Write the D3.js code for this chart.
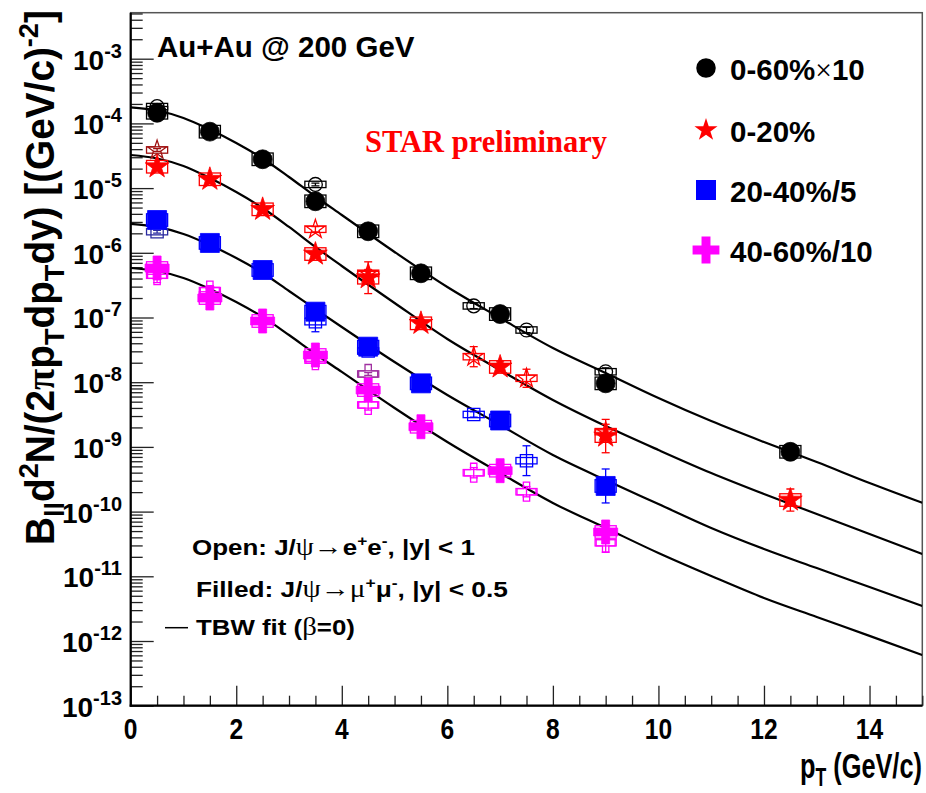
<!DOCTYPE html>
<html>
<head>
<meta charset="utf-8">
<script src="https://cdn.jsdelivr.net/npm/d3@7"></script>
<style>
  body { margin: 0; background: #fff; }
  svg { display: block; }
</style>
</head>
<body>
<svg id="chart" width="926" height="793"></svg>
<script>
// ---- data ----
var labels = ["0-60%\u00d710", "0-20%", "20-40%/5", "40-60%/10"];

// TBW fit curves, sampled at fitPt
var fitPt = [0, 0.5, 1, 1.5, 2, 2.5, 3, 3.5, 4, 5, 6, 7, 8, 9, 10, 11, 12, 13, 14, 15];
var fit0_60 = [1.77e-4, 1.58e-4, 1.21e-4, 8.04e-5, 4.98e-5, 2.87e-5, 1.485e-5, 7.42e-6, 3.84e-6, 1.03e-6,
               2.96e-7, 9.82e-8, 3.38e-8, 1.39e-8, 5.70e-9, 2.51e-9, 1.19e-9, 5.84e-10, 2.77e-10, 1.37e-10];
var fit0_20 = [3.25e-5, 2.87e-5, 2.20e-5, 1.43e-5, 8.70e-6, 4.93e-6, 2.51e-6, 1.23e-6, 6.25e-7, 1.675e-7,
               4.65e-8, 1.54e-8, 5.31e-9, 2.10e-9, 8.96e-10, 3.95e-10, 1.87e-10, 9.18e-11, 4.51e-11, 2.21e-11];
var fit20_40 = [2.79e-6, 2.51e-6, 1.95e-6, 1.32e-6, 8.31e-7, 4.87e-7, 2.57e-7, 1.35e-7, 7.13e-8, 2.05e-8,
                6.34e-9, 2.18e-9, 7.50e-10, 3.08e-10, 1.31e-10, 5.58e-11, 2.64e-11, 1.34e-11, 6.83e-12, 3.48e-12];
var fit40_60 = [5.82e-7, 5.23e-7, 4.08e-7, 2.76e-7, 1.74e-7, 1.02e-7, 5.36e-8, 2.73e-8, 1.44e-8, 3.99e-9,
                1.19e-9, 3.95e-10, 1.36e-10, 5.58e-11, 2.29e-11, 1.01e-11, 4.62e-12, 2.35e-12, 1.20e-12, 6.08e-13];

// filled: J/psi -> mu+ mu-, |y| < 0.5
var mmPt = [0.5, 1.5, 2.5, 3.5, 4.5, 5.5, 7.0, 9.0, 12.5];
var mm0_60 = [1.46e-4, 7.45e-5, 2.79e-5, 6.25e-6, 2.15e-6, 4.82e-7, 1.13e-7, 9.6e-9, 8.4e-10];
var mm0_20 = [2.14e-5, 1.37e-5, 4.70e-6, 9.57e-7, 4.12e-7, 8.13e-8, 1.72e-8, 1.47e-9, 1.51e-10];
var mm20_40 = [3.21e-6, 1.42e-6, 5.42e-7, 1.23e-7, 3.54e-8, 9.6e-9, 2.56e-9, 2.49e-10];
var mm40_60 = [5.82e-7, 2.0e-7, 8.83e-8, 2.63e-8, 7.56e-9, 2.05e-9, 4.29e-10, 4.84e-11];
// relative stat. errors
var mmStat0_60 = [0.03, 0.03, 0.04, 0.05, 0.06, 0.08, 0.1, 0.15, 0.3];
var mmStat0_20 = [0.05, 0.05, 0.08, 0.1, 0.76, 0.15, 0.2, 0.81, 0.48];
var mmStat20_40 = [0.05, 0.05, 0.08, 0.1, 0.15, 0.2, 0.25, 0.83];
var mmStat40_60 = [0.1, 0.15, 0.15, 0.2, 0.25, 0.3, 0.3, 0.3];

// open: J/psi -> e+ e-, |y| < 1
var eePt0_60 = [3.5, 6.5, 7.5, 9.0];
var ee0_60 = [1.14e-5, 1.51e-7, 6.41e-8, 1.45e-8];
var eeStat0_60 = [0.05, 0.1, 0.1, 0.15];
var eePt0_20 = [3.5, 4.5, 6.5, 7.5, 9.0];
var ee0_20 = [2.31e-6, 4.8e-7, 2.48e-8, 1.15e-8, 1.72e-9];
var eeStat0_20 = [0.1, 0.15, 0.43, 0.38, 0.3];
var eePt20_40 = [3.5, 4.5, 6.5, 7.5];
var ee20_40 = [8.61e-8, 3.03e-8, 3.17e-9, 6.12e-10];
var eeStat20_40 = [0.43, 0.15, 0.1, 0.7];
var eePt40_60 = [0.5, 1.5, 3.5, 4.5, 6.5, 7.5, 9.0];
var ee40_60 = [4.5e-7, 2.6e-7, 2.2e-8, 4.45e-9, 3.99e-10, 2.03e-10, 3.3e-11];
var eeStat40_60 = [0.3, 0.2, 0.15, 0.2, 0.2, 0.2, 0.4];

// open, second e+e- sample (darker colour)
var ee2Pt0_60 = [0.5];
var ee2_0_60 = [1.82e-4];
var ee2Pt0_20 = [0.5];
var ee2_0_20 = [3.88e-5];
var ee2Pt20_40 = [0.5];
var ee2_20_40 = [2.12e-6];
var ee2Pt40_60 = [4.5];
var ee2_40_60 = [1.34e-8];

var yMajorExp = [-13, -12, -11, -10, -9, -8, -7, -6, -5, -4, -3];
var xMajor = [0, 2, 4, 6, 8, 10, 12, 14];

// ---- layout ----
var x0 = 130.7, x1 = 922.3, yB = 705.7, yT = 12.7;
var helv = "'Liberation Sans', Arial, Helvetica, sans-serif";
var times = "'Liberation Serif', 'Times New Roman', serif";

var svg = d3.select("#chart");
var x = d3.scaleLinear().domain([0, 15]).range([x0, x1]);
var y = d3.scaleLog().domain([1e-13, 5.14e-3]).range([yB, yT]);

var colors = ["#000000", "#ff0000", "#0000ff", "#ff00ff"];
var darkColors = ["#000000", "#a01010", "#2a2aa0", "#a030a0"];
var shapes = [d3.symbolCircle, d3.symbolStar, d3.symbolSquare, d3.symbolCross];
var fullSize = [280, 175, 361, 320];
var openSize = [150, 110, 150, 200];

var series = [
  {fit: fit0_60, mm: mm0_60, mmStat: mmStat0_60, eePt: eePt0_60, ee: ee0_60, eeStat: eeStat0_60, ee2Pt: ee2Pt0_60, ee2: ee2_0_60},
  {fit: fit0_20, mm: mm0_20, mmStat: mmStat0_20, eePt: eePt0_20, ee: ee0_20, eeStat: eeStat0_20, ee2Pt: ee2Pt0_20, ee2: ee2_0_20},
  {fit: fit20_40, mm: mm20_40, mmStat: mmStat20_40, eePt: eePt20_40, ee: ee20_40, eeStat: eeStat20_40, ee2Pt: ee2Pt20_40, ee2: ee2_20_40},
  {fit: fit40_60, mm: mm40_60, mmStat: mmStat40_60, eePt: eePt40_60, ee: ee40_60, eeStat: eeStat40_60, ee2Pt: ee2Pt40_60, ee2: ee2_40_60}
];

svg.append("defs").append("clipPath").attr("id", "plotclip")
   .append("rect").attr("x", x0).attr("y", yT).attr("width", x1 - x0).attr("height", yB - yT);

// frame
svg.append("rect").attr("x", x0).attr("y", yT).attr("width", x1 - x0).attr("height", yB - yT)
   .attr("fill", "none").attr("stroke", "#555").attr("stroke-width", 1.5);

// ---- axes ----
var yMinor = [];
yMajorExp.forEach(function(e) {
  for (var k = 2; k <= 9; k++) {
    var v = k * Math.pow(10, e);
    if (v <= 5.14e-3) yMinor.push(v);
  }
});
var yMajor = yMajorExp.map(function(e) { return Math.pow(10, e); });

function styleAxis(g) {
  g.select(".domain").remove();
  g.selectAll("line").attr("stroke", "#222").attr("stroke-width", 1.3);
}
svg.append("g").attr("transform", "translate(" + x0 + ",0)")
   .call(d3.axisLeft(y).tickValues(yMinor).tickSize(-12).tickFormat(""))
   .call(styleAxis);
svg.append("g").attr("transform", "translate(" + x0 + ",0)")
   .call(d3.axisLeft(y).tickValues(yMajor).tickSize(-23).tickFormat(""))
   .call(styleAxis);

var xMinor = d3.range(0, 15.01, 0.5).filter(function(v) { return xMajor.indexOf(v) < 0; });
svg.append("g").attr("transform", "translate(0," + yB + ")")
   .call(d3.axisBottom(x).tickValues(xMinor).tickSize(-10).tickFormat(""))
   .call(styleAxis);
svg.append("g").attr("transform", "translate(0," + yB + ")")
   .call(d3.axisBottom(x).tickValues(xMajor).tickSize(-20).tickFormat(""))
   .call(styleAxis);

// axis lines
svg.append("line").attr("x1", x0).attr("x2", x0).attr("y1", yT).attr("y2", yB + 1)
   .attr("stroke", "#000").attr("stroke-width", 2.2);
svg.append("line").attr("x1", x0 - 1).attr("x2", x1).attr("y1", yB).attr("y2", yB)
   .attr("stroke", "#000").attr("stroke-width", 2.2);

// y tick labels 10^n
yMajorExp.forEach(function(e) {
  var t = svg.append("text").attr("x", 122).attr("y", y(Math.pow(10, e)) + 11)
             .attr("text-anchor", "end").attr("font-family", helv).attr("font-weight", "bold")
             .attr("font-size", 28);
  t.append("tspan").text("10");
  t.append("tspan").attr("dy", -12).attr("font-size", 20).text(String(e));
});

// x tick labels (narrow font)
xMajor.forEach(function(v) {
  svg.append("text")
     .attr("transform", "translate(" + x(v) + "," + (yB + 33) + ") scale(0.82,1)")
     .attr("text-anchor", "middle").attr("font-family", helv).attr("font-weight", "bold")
     .attr("font-size", 30).text(v);
});

// squeeze a text to a given width, anchored at its left end
function fitWidth(t, xp, yp, width, extra) {
  var w = t.node().getComputedTextLength();
  t.attr("transform", "translate(" + xp + "," + yp + ")" + (extra || "") + " scale(" + (width / w) + ",1)");
}

// x title
var xt = svg.append("text").attr("font-family", helv).attr("font-weight", "bold").attr("font-size", 36);
xt.append("tspan").text("p");
xt.append("tspan").attr("dy", 8).attr("font-size", 25).text("T");
xt.append("tspan").attr("dy", -8).text(" (GeV/c)");
fitWidth(xt, 800, 778, 122);

// y title
var ytl = svg.append("text").attr("font-family", helv).attr("font-weight", "bold").attr("font-size", 40);
ytl.append("tspan").text("B");
ytl.append("tspan").attr("dy", 10).attr("font-size", 28).text("ll");
ytl.append("tspan").attr("dy", -10).text("d");
ytl.append("tspan").attr("dy", -16).attr("font-size", 28).text("2");
ytl.append("tspan").attr("dy", 16).text("N/(2");
ytl.append("tspan").attr("font-family", times).text("\u03c0");
ytl.append("tspan").text("p");
ytl.append("tspan").attr("dy", 10).attr("font-size", 28).text("T");
ytl.append("tspan").attr("dy", -10).text("dp");
ytl.append("tspan").attr("dy", 10).attr("font-size", 28).text("T");
ytl.append("tspan").attr("dy", -10).text("dy) [(GeV/c)");
ytl.append("tspan").attr("dy", -16).attr("font-size", 28).text("-2");
ytl.append("tspan").attr("dy", 16).text("]");
fitWidth(ytl, 54, 545, 535, " rotate(-90)");

// ---- plot content ----
var plot = svg.append("g").attr("clip-path", "url(#plotclip)");

var line = d3.line().x(function(d) { return x(d[0]); }).y(function(d) { return y(d[1]); })
             .curve(d3.curveMonotoneX);
series.forEach(function(s) {
  plot.append("path").attr("d", line(d3.zip(fitPt, s.fit)))
      .attr("fill", "none").attr("stroke", "#000").attr("stroke-width", 2.2);
});

function pointsOf(pts, vals, stat) {
  return pts.map(function(p, i) { return {pt: p, v: vals[i], e: stat ? stat[i] : 0.05}; });
}

function drawSet(g, data, color, shape, size, filled, sysRel) {
  // systematic boxes
  g.selectAll(null).data(data).enter().append("rect")
   .attr("x", function(d) { return x(d.pt - 0.2); })
   .attr("width", function(d) { return x(d.pt + 0.2) - x(d.pt - 0.2); })
   .attr("y", function(d) { return y(d.v * (1 + sysRel)); })
   .attr("height", function(d) { return y(d.v / (1 + sysRel)) - y(d.v * (1 + sysRel)); })
   .attr("fill", "none").attr("stroke", color).attr("stroke-width", 1.3);
  // stat bars with end caps
  var eb = g.selectAll(null).data(data).enter().append("g");
  eb.append("line").attr("x1", function(d) { return x(d.pt); }).attr("x2", function(d) { return x(d.pt); })
    .attr("y1", function(d) { return y(d.v * (1 + d.e)); }).attr("y2", function(d) { return y(d.v / (1 + d.e)); })
    .attr("stroke", color).attr("stroke-width", 1.3);
  [1, -1].forEach(function(sg) {
    var yy = function(d) { return y(sg > 0 ? d.v * (1 + d.e) : d.v / (1 + d.e)); };
    eb.append("line").attr("x1", function(d) { return x(d.pt) - 4; }).attr("x2", function(d) { return x(d.pt) + 4; })
      .attr("y1", yy).attr("y2", yy)
      .attr("stroke", color).attr("stroke-width", 1.3);
  });
  // markers
  g.selectAll(null).data(data).enter().append("path")
   .attr("transform", function(d) { return "translate(" + x(d.pt) + "," + y(d.v) + ")"; })
   .attr("d", d3.symbol().type(shape).size(size))
   .attr("fill", filled ? color : "none")
   .attr("stroke", color).attr("stroke-width", filled ? 0.8 : 1.3);
}

series.forEach(function(s, i) {
  drawSet(plot, pointsOf(s.eePt, s.ee, s.eeStat), colors[i], shapes[i], openSize[i], false, 0.12);
  drawSet(plot, pointsOf(s.ee2Pt, s.ee2, null), darkColors[i], shapes[i], openSize[i], false, 0.12);
  drawSet(plot, pointsOf(mmPt.slice(0, s.mm.length), s.mm, s.mmStat), colors[i], shapes[i], fullSize[i], true, 0.25);
});

// ---- legend ----
var legY = [68, 130, 190, 250];
var legSize = [300, 165, 400, 400];
labels.forEach(function(lab, i) {
  svg.append("path").attr("transform", "translate(706," + legY[i] + ")")
     .attr("d", d3.symbol().type(shapes[i]).size(legSize[i]))
     .attr("fill", colors[i]);
  var t = svg.append("text").attr("x", 730).attr("y", legY[i] + 12)
             .attr("font-family", helv).attr("font-weight", "bold").attr("font-size", 29.5);
  if (i === 0) {
    t.append("tspan").text("0-60%");
    t.append("tspan").attr("font-family", times).attr("font-weight", "normal").text("\u00d7");
    t.append("tspan").text("10");
  } else {
    t.text(lab);
  }
});

// ---- annotations ----
svg.append("text").attr("x", 157).attr("y", 57).attr("font-family", helv).attr("font-weight", "bold")
   .attr("font-size", 29.5).text("Au+Au @ 200 GeV");
svg.append("text").attr("x", 365).attr("y", 152).attr("font-family", times).attr("font-weight", "bold")
   .attr("font-size", 30.5).attr("fill", "#ff0000").text("STAR preliminary");

function note(xp, yp, width, parts) {
  var t = svg.append("text").attr("font-family", helv)
             .attr("font-weight", "bold").attr("font-size", 22.5);
  parts.forEach(function(p) {
    var ts = t.append("tspan").text(p[0]);
    if (p[1] === "sym") ts.attr("font-family", times).attr("font-weight", "normal").attr("font-size", 25);
    if (p[1] === "sup") ts.attr("dy", -9).attr("font-size", 15);
    if (p[1] === "base") ts.attr("dy", 9);
  });
  fitWidth(t, xp, yp, width);
}
note(192, 555, 283, [["Open: J/"], ["\u03c8\u2192", "sym"], ["e"], ["+", "sup"], ["e", "base"], ["-", "sup"], [", |y| < 1", "base"]]);
note(196, 597, 312, [["Filled: J/"], ["\u03c8\u2192\u03bc", "sym"], ["+", "sup"], ["\u03bc", "base"], ["-", "sup"], [", |y| < 0.5", "base"]]);
svg.append("line").attr("x1", 165).attr("x2", 188).attr("y1", 627.7).attr("y2", 627.7)
   .attr("stroke", "#000").attr("stroke-width", 1.5);
note(196, 635, 159, [["TBW fit ("], ["\u03b2", "sym"], ["=0)"]]);
</script>
</body>
</html>
